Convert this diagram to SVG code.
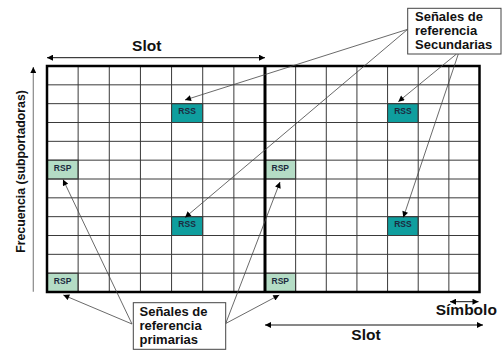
<svg xmlns="http://www.w3.org/2000/svg" width="503" height="350" viewBox="0 0 503 350">
<defs>
<marker id="ah" viewBox="0 0 10 10" refX="10" refY="5" markerWidth="7" markerHeight="6" markerUnits="userSpaceOnUse" orient="auto-start-reverse">
<path d="M0,0 L10,5 L0,10 z" fill="#000"/>
</marker>
<style>
.g{stroke:#3a3a3a;stroke-width:1;fill:none}
.b{stroke:#000;stroke-width:2.5;fill:none}
.rss{fill:#0f9e9e;stroke:#3a3a3a;stroke-width:1}
.rsp{fill:#b4dcc5;stroke:#3a3a3a;stroke-width:1}
.ct{font-family:"Liberation Sans",Arial,sans-serif;font-weight:bold;font-size:8.5px;fill:#1c2a3e;text-anchor:middle}
.lbl{font-family:"Liberation Sans",Arial,sans-serif;font-weight:bold;font-size:13px;fill:#111}
.big{font-family:"Liberation Sans",Arial,sans-serif;font-weight:bold;font-size:15.5px;fill:#111;text-anchor:middle}
.c{stroke:#444;stroke-width:0.8;fill:none;marker-end:url(#ah)}
.d{stroke:#111;stroke-width:1;fill:none;marker-start:url(#ah);marker-end:url(#ah)}
.box{fill:#fff;stroke:#444;stroke-width:1}
</style>
</defs>
<rect width="503" height="350" fill="#fff"/>

<g id="grid">
<rect id="rss-l1" class="rss" x="171.57" y="103.67" width="31.14" height="18.83"/>
<rect id="rss-l2" class="rss" x="171.57" y="216.67" width="31.14" height="18.83"/>
<rect id="rss-r1" class="rss" x="387.57" y="103.67" width="30.64" height="18.83"/>
<rect id="rss-r2" class="rss" x="387.57" y="216.67" width="30.64" height="18.83"/>
<rect id="rsp-l1" class="rsp" x="47" y="160.17" width="31.14" height="18.83"/>
<rect id="rsp-l2" class="rsp" x="47" y="273.17" width="31.14" height="18.83"/>
<rect id="rsp-r1" class="rsp" x="265" y="160.17" width="30.64" height="18.83"/>
<rect id="rsp-r2" class="rsp" x="265" y="273.17" width="30.64" height="18.83"/>
<path class="g" d="M78.14,66V292M109.29,66V292M140.43,66V292M171.57,66V292M202.71,66V292M233.86,66V292M295.64,66V292M326.29,66V292M356.93,66V292M387.57,66V292M418.21,66V292M448.86,66V292"/>
<path class="g" d="M47,84.83H479.5M47,103.67H479.5M47,122.5H479.5M47,141.33H479.5M47,160.17H479.5M47,179H479.5M47,197.83H479.5M47,216.67H479.5M47,235.5H479.5M47,254.33H479.5M47,273.17H479.5"/>
<rect class="b" x="47" y="66" width="432.5" height="226"/>
<line x1="265" y1="66" x2="265" y2="292" stroke="#000" stroke-width="3"/>
<text class="ct" x="187.1" y="114.3">RSS</text>
<text class="ct" x="187.1" y="227.3">RSS</text>
<text class="ct" x="402.9" y="114.3">RSS</text>
<text class="ct" x="402.9" y="227.3">RSS</text>
<text class="ct" x="62.6" y="171">RSP</text>
<text class="ct" x="62.6" y="284">RSP</text>
<text class="ct" x="280.3" y="171">RSP</text>
<text class="ct" x="280.3" y="284">RSP</text>
</g>

<g id="connectors">
<line class="c" x1="407.7" y1="29.3" x2="185" y2="100"/>
<line class="c" x1="407.7" y1="29.3" x2="185" y2="217.5"/>
<line class="c" x1="456.5" y1="54" x2="398.3" y2="101.7"/>
<line class="c" x1="458.3" y1="54" x2="403.3" y2="217.5"/>
<line class="c" x1="132" y1="324" x2="63" y2="179.5"/>
<line class="c" x1="132" y1="324" x2="63.3" y2="295"/>
<line class="c" x1="225.7" y1="323.5" x2="280" y2="182"/>
<line class="c" x1="225.7" y1="323.5" x2="279.3" y2="295"/>
<line class="d" x1="47" y1="57.7" x2="265" y2="57.7"/>
<line class="d" x1="265" y1="325" x2="483" y2="325"/>
<line class="d" x1="450" y1="301.7" x2="478.5" y2="301.7"/>
<line x1="33.3" y1="291.7" x2="33.3" y2="67" stroke="#888" stroke-width="1.2" marker-end="url(#ah)"/>
</g>

<g id="label-secundarias">
<rect class="box" x="407.7" y="8.3" width="93.3" height="45.7"/>
<text class="lbl" x="415" y="21">Señales de</text>
<text class="lbl" x="415" y="34.8">referencia</text>
<text class="lbl" x="415" y="48.5">Secundarias</text>
</g>

<g id="label-primarias">
<rect class="box" x="133.3" y="302.7" width="92.4" height="46.6"/>
<text class="lbl" x="139.5" y="316">Señales de</text>
<text class="lbl" x="139.5" y="329.8">referencia</text>
<text class="lbl" x="139.5" y="344">primarias</text>
</g>

<g id="axis-labels">
<text class="big" x="146.7" y="50.5">Slot</text>
<text class="big" x="366" y="339.5">Slot</text>
<text class="big" x="466.3" y="315" fill="#1c2a3e">Símbolo</text>
<text x="0" y="0" transform="translate(24.5,171.5) rotate(-90)" font-family="Liberation Sans, Arial, sans-serif" font-weight="bold" font-size="12.3" fill="#111" text-anchor="middle">Frecuencia (subportadoras)</text>
</g>
</svg>
